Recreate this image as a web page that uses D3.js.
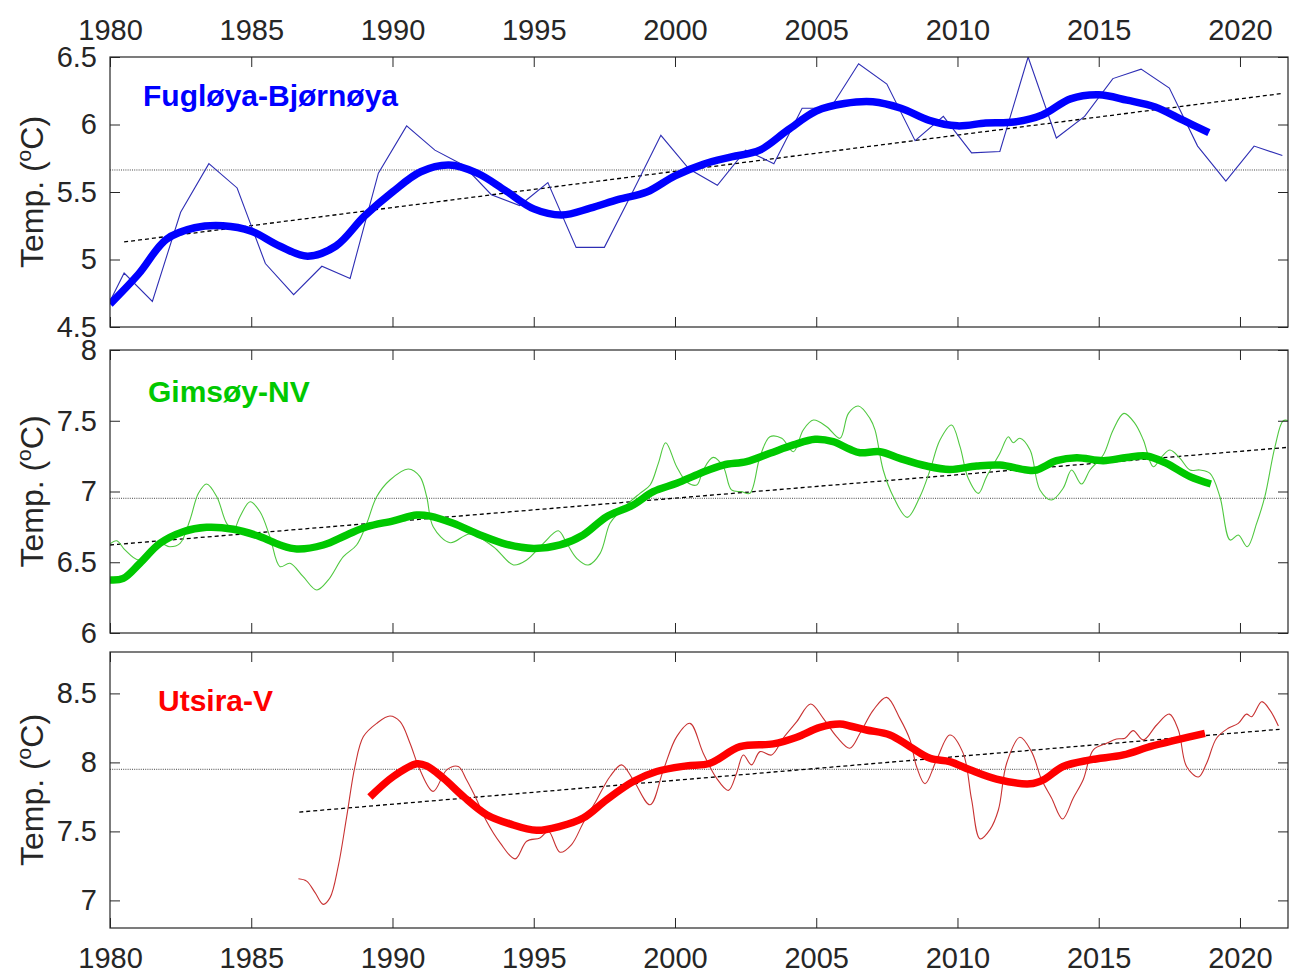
<!DOCTYPE html>
<html>
<head>
<meta charset="utf-8">
<script src="https://cdn.jsdelivr.net/npm/d3@7"></script>
<style>
  html, body { margin: 0; padding: 0; background: #fff; }
  svg { display: block; font-family: "Liberation Sans", Arial, Helvetica, sans-serif; }
</style>
</head>
<body>
<svg id="chart" width="1289" height="974"></svg>
<script>
// ---------- DATA ----------
const xTicks = [1980, 1985, 1990, 1995, 2000, 2005, 2010, 2015, 2020];

// Panel 1: Fugløya-Bjørnøya (annual values)
const fbYears = [1979.5,1980.5,1981.5,1982.5,1983.5,1984.5,1985.5,1986.5,1987.5,1988.5,1989.5,1990.5,1991.5,1992.5,1993.5,1994.5,1995.5,1996.5,1997.5,1998.5,1999.5,2000.5,2001.5,2002.5,2003.5,2004.5,2005.5,2006.5,2007.5,2008.5,2009.5,2010.5,2011.5,2012.5,2013.5,2014.5,2015.5,2016.5,2017.5,2018.5,2019.5,2020.5,2021.5];
const fbValues = [4.48,4.90,4.69,5.35,5.71,5.53,4.97,4.74,4.95,4.86,5.64,5.99,5.81,5.70,5.48,5.40,5.57,5.09,5.09,5.50,5.92,5.67,5.55,5.81,5.71,6.12,6.12,6.45,6.30,5.88,6.06,5.79,5.80,6.50,5.90,6.06,6.34,6.41,6.27,5.84,5.58,5.84,5.77];
const fbSmoothYears = [1980,1981,1982,1983,1984,1985,1986,1987,1988,1989,1990,1991,1992,1993,1994,1995,1996,1997,1998,1999,2000,2001,2002,2003,2004,2005,2006,2007,2008,2009,2010,2011,2012,2013,2014,2015,2016,2017,2018,2018.9];
const fbSmoothValues = [4.67,4.89,5.15,5.235,5.25,5.21,5.10,5.025,5.10,5.32,5.50,5.65,5.70,5.64,5.51,5.375,5.33,5.38,5.445,5.50,5.62,5.705,5.76,5.81,5.96,6.10,6.155,6.168,6.12,6.03,5.99,6.011,6.018,6.07,6.19,6.22,6.18,6.13,6.03,5.94];
const fbMean = 5.663;
const fbTrend = [[1980.5, 5.13], [2021.5, 6.23]];
const fbYTicks = [4.5, 5, 5.5, 6, 6.5];

// Panel 2: Gimsøy-NV
const gnYears = [1980.0,1980.24,1980.53,1981.0,1981.42,1981.77,1982.12,1982.48,1982.83,1983.13,1983.42,1983.78,1984.13,1984.37,1984.6,1984.96,1985.31,1985.66,1986.02,1986.37,1986.84,1987.32,1987.73,1988.26,1988.73,1989.09,1989.44,1989.91,1990.56,1990.97,1991.21,1991.44,1992.04,1992.74,1993.57,1994.28,1994.75,1995.34,1995.87,1996.17,1996.52,1996.93,1997.35,1997.7,1998.05,1998.41,1998.76,1999.12,1999.41,1999.67,2000.06,2000.41,2000.77,2001.0,2001.35,2001.71,2002.0,2002.36,2002.65,2003.01,2003.36,2003.78,2004.19,2004.54,2004.9,2005.37,2005.84,2006.14,2006.49,2006.9,2007.08,2007.37,2007.73,2008.22,2008.67,2009.03,2009.38,2009.79,2010.09,2010.38,2010.74,2011.03,2011.5,2011.8,2011.97,2012.21,2012.57,2012.92,2013.33,2013.74,2014.04,2014.39,2014.69,2015.16,2015.51,2015.89,2016.28,2016.58,2016.93,2017.23,2017.52,2017.88,2018.23,2018.58,2018.94,2019.29,2019.65,2019.94,2020.26,2020.59,2020.88,2021.24,2021.53,2021.73];
const gnValues = [6.63,6.652,6.587,6.516,6.563,6.634,6.61,6.634,6.799,6.987,7.053,6.963,6.775,6.728,6.822,6.928,6.857,6.681,6.469,6.493,6.398,6.304,6.375,6.539,6.622,6.775,6.963,7.081,7.159,7.105,6.963,6.751,6.638,6.70,6.61,6.481,6.516,6.634,6.723,6.634,6.528,6.481,6.563,6.775,6.857,6.928,6.987,7.046,7.199,7.345,7.175,7.069,7.046,7.152,7.241,7.175,7.011,6.999,6.987,7.246,7.387,7.376,7.281,7.435,7.505,7.458,7.376,7.552,7.604,7.517,7.435,7.152,6.963,6.817,6.963,7.152,7.364,7.47,7.317,7.093,6.987,7.105,7.27,7.387,7.345,7.376,7.293,7.011,6.94,7.023,7.152,7.053,7.152,7.258,7.435,7.552,7.482,7.364,7.175,7.246,7.293,7.234,7.152,7.152,7.128,6.963,6.657,6.693,6.61,6.775,6.963,7.317,7.5,7.5];
const gnSmoothYears = [1980.0,1980.47,1981.06,1981.77,1982.59,1983.42,1984.37,1985.31,1986.02,1986.61,1987.55,1988.38,1989.09,1990.03,1990.86,1991.33,1992.15,1993.1,1994.04,1994.99,1995.93,1996.75,1997.58,1998.52,1999.23,2000.06,2000.88,2001.71,2002.53,2003.36,2004.19,2004.96,2005.6,2006.19,2006.55,2007.26,2007.96,2008.91,2009.73,2010.68,2011.5,2012.45,2012.8,2013.51,2014.22,2015.16,2015.99,2016.7,2017.4,2018.23,2018.97];
const gnSmoothValues = [6.375,6.386,6.493,6.634,6.716,6.747,6.733,6.681,6.622,6.594,6.622,6.693,6.751,6.793,6.834,6.826,6.775,6.693,6.627,6.598,6.622,6.693,6.822,6.905,6.999,7.058,7.128,7.187,7.211,7.27,7.329,7.369,7.352,7.298,7.274,7.281,7.234,7.18,7.156,7.18,7.187,7.152,7.152,7.218,7.239,7.218,7.241,7.251,7.199,7.105,7.053];
const gnMean = 6.952;
const gnTrend = [[1980, 6.622], [2021.7, 7.312]];
const gnYTicks = [6, 6.5, 7, 7.5, 8];

// Panel 3: Utsira-V
const uvYears = [1986.67,1986.96,1987.26,1987.55,1987.79,1988.08,1988.38,1988.67,1988.97,1989.44,1989.91,1990.27,1990.62,1990.97,1991.44,1991.92,1992.33,1992.62,1992.98,1993.33,1993.81,1994.34,1994.75,1995.22,1995.52,1995.93,1996.34,1996.75,1997.23,1997.7,1998.11,1998.52,1999.12,1999.59,2000.06,2000.53,2001.0,2001.47,2001.89,2002.18,2002.42,2002.71,2003.01,2003.42,2003.83,2004.31,2004.8,2005.25,2005.72,2006.19,2006.55,2007.02,2007.49,2007.96,2008.32,2008.55,2008.85,2009.26,2009.73,2010.2,2010.5,2010.8,2011.15,2011.45,2011.74,2012.21,2012.62,2012.98,2013.33,2013.72,2014.1,2014.45,2014.81,2015.28,2015.63,2015.93,2016.22,2016.58,2017.05,2017.5,2017.82,2018.11,2018.53,2018.82,2019.17,2019.58,2019.94,2020.23,2020.41,2020.77,2021.06,2021.36];
const uvValues = [7.157,7.14,7.056,6.971,7.02,7.248,7.609,7.97,8.187,8.283,8.336,8.295,8.139,7.946,7.79,7.946,7.97,7.874,7.73,7.573,7.417,7.301,7.429,7.453,7.501,7.349,7.405,7.561,7.73,7.898,7.982,7.874,7.693,7.946,8.187,8.283,8.067,7.886,7.797,7.922,8.054,7.982,8.078,8.054,8.175,8.295,8.423,8.319,8.187,8.103,8.211,8.379,8.471,8.319,8.163,7.97,7.845,8.018,8.199,8.067,7.73,7.446,7.513,7.657,7.994,8.182,8.078,7.874,7.742,7.59,7.742,7.874,8.091,8.139,8.17,8.175,8.23,8.163,8.271,8.35,8.235,7.97,7.894,7.994,8.175,8.247,8.283,8.35,8.331,8.44,8.379,8.264];
const uvSmoothYears = [1989.2,1990.03,1990.86,1991.21,1991.8,1992.51,1993.33,1994.16,1995.1,1995.93,1996.75,1997.58,1998.52,1999.35,2000.41,2001.24,2002.3,2003.48,2004.31,2005.13,2005.84,2006.19,2006.78,2007.61,2008.32,2009.03,2009.73,2010.44,2011.38,2012.57,2013.04,2013.74,2014.69,2015.87,2016.81,2017.76,2018.76];
const uvSmoothValues = [7.749,7.898,7.99,7.975,7.886,7.753,7.621,7.554,7.508,7.537,7.597,7.73,7.862,7.934,7.975,7.994,8.114,8.134,8.182,8.254,8.278,8.264,8.235,8.199,8.114,8.03,8.006,7.946,7.879,7.845,7.874,7.97,8.018,8.054,8.114,8.163,8.211];
const uvMean = 7.95;
const uvTrend = [[1986.7, 7.64], [2021.4, 8.24]];
const uvYTicks = [7, 7.5, 8, 8.5];

// ---------- LAYOUT ----------
const svg = d3.select("#chart");
const left = 110, right = 1288;
const textColor = "#262626";
const fontSize = 29;

const x = d3.scaleLinear().domain([1980, 2021.7]).range([left, right]);

const panels = [
  { name: "Fugløya-Bjørnøya", top: 57, bottom: 327, domain: [4.5, 6.5], yTicks: fbYTicks,
    thinX: fbYears, thinY: fbValues, thinCurve: d3.curveLinear, smX: fbSmoothYears, smY: fbSmoothValues,
    mean: fbMean, trend: fbTrend, thick: "#0000ff", thin: "#2e2eb4", labelX: 143, labelY: 106,
    topAxis: true, bottomAxis: false },
  { name: "Gimsøy-NV", top: 350, bottom: 633, domain: [6, 8], yTicks: gnYTicks,
    thinX: gnYears, thinY: gnValues, thinCurve: d3.curveCatmullRom, smX: gnSmoothYears, smY: gnSmoothValues,
    mean: gnMean, trend: gnTrend, thick: "#00c800", thin: "#50c840", labelX: 148, labelY: 402,
    topAxis: false, bottomAxis: false },
  { name: "Utsira-V", top: 652, bottom: 928, domain: [6.8, 8.8], yTicks: uvYTicks,
    thinX: uvYears, thinY: uvValues, thinCurve: d3.curveCatmullRom, smX: uvSmoothYears, smY: uvSmoothValues,
    mean: uvMean, trend: uvTrend, thick: "#ff0000", thin: "#c83232", labelX: 158, labelY: 711,
    topAxis: false, bottomAxis: true }
];

panels.forEach((p, i) => {
  const y = d3.scaleLinear().domain(p.domain).range([p.bottom, p.top]);
  const g = svg.append("g");
  const clipId = "clip" + i;
  svg.append("clipPath").attr("id", clipId)
    .append("rect").attr("x", left).attr("y", p.top).attr("width", right - left).attr("height", p.bottom - p.top);

  const plot = g.append("g").attr("clip-path", `url(#${clipId})`);

  // mean (dotted)
  plot.append("line")
    .attr("x1", x.range()[0]).attr("x2", x.range()[1])
    .attr("y1", y(p.mean)).attr("y2", y(p.mean))
    .attr("stroke", "#444").attr("stroke-width", 1).attr("stroke-dasharray", "1,1.2");

  // trend (dashed)
  plot.append("path")
    .attr("d", d3.line().x(d => x(d[0])).y(d => y(d[1]))(p.trend))
    .attr("fill", "none").attr("stroke", "#000").attr("stroke-width", 1.3).attr("stroke-dasharray", "4,3");

  // thin series
  const thinData = p.thinX.map((v, k) => [v, p.thinY[k]]);
  plot.append("path")
    .attr("d", d3.line().curve(p.thinCurve).x(d => x(d[0])).y(d => y(d[1]))(thinData))
    .attr("fill", "none").attr("stroke", p.thin).attr("stroke-width", 1.1);

  // smooth series
  const smData = p.smX.map((v, k) => [v, p.smY[k]]);
  plot.append("path")
    .attr("d", d3.line().curve(d3.curveCatmullRom).x(d => x(d[0])).y(d => y(d[1]))(smData))
    .attr("fill", "none").attr("stroke", p.thick).attr("stroke-width", 7.5).attr("stroke-linejoin", "round");

  // axes
  const yl = g.append("g").attr("transform", `translate(${left},0)`)
    .call(d3.axisLeft(y).tickValues(p.yTicks).tickFormat(d => String(d)).tickSize(-10).tickPadding(13));
  const yr = g.append("g").attr("transform", `translate(${right},0)`)
    .call(d3.axisRight(y).tickValues(p.yTicks).tickFormat("").tickSize(-10));
  const xt = g.append("g").attr("transform", `translate(0,${p.top})`)
    .call(d3.axisTop(x).tickValues(xTicks).tickFormat(p.topAxis ? d3.format("d") : "").tickSize(-10).tickPadding(17));
  const xb = g.append("g").attr("transform", `translate(0,${p.bottom})`)
    .call(d3.axisBottom(x).tickValues(xTicks).tickFormat(p.bottomAxis ? d3.format("d") : "").tickSize(-10).tickPadding(19));

  [yl, yr, xt, xb].forEach(a => {
    a.select(".domain").remove();
    a.selectAll(".tick line").attr("stroke", textColor).attr("stroke-width", 1);
    a.selectAll(".tick text").attr("fill", textColor).attr("font-size", fontSize)
      .attr("font-family", '"Liberation Sans", Arial, Helvetica, sans-serif');
  });

  // box
  g.append("rect").attr("x", left).attr("y", p.top).attr("width", right - left).attr("height", p.bottom - p.top)
    .attr("fill", "none").attr("stroke", textColor).attr("stroke-width", 1.2);

  // y label
  const cy = (p.top + p.bottom) / 2;
  const lab = g.append("text")
    .attr("transform", `translate(43,${cy}) rotate(-90)`)
    .attr("text-anchor", "middle")
    .attr("fill", textColor).attr("font-size", 32);
  lab.append("tspan").text("Temp. (");
  lab.append("tspan").text("o").attr("font-size", 21).attr("dy", -12);
  lab.append("tspan").text("C)").attr("dy", 12);

  // panel title
  g.append("text").attr("x", p.labelX).attr("y", p.labelY)
    .attr("fill", p.thick).attr("font-size", 30).attr("font-weight", "bold").text(p.name);
});
</script>
</body>
</html>
